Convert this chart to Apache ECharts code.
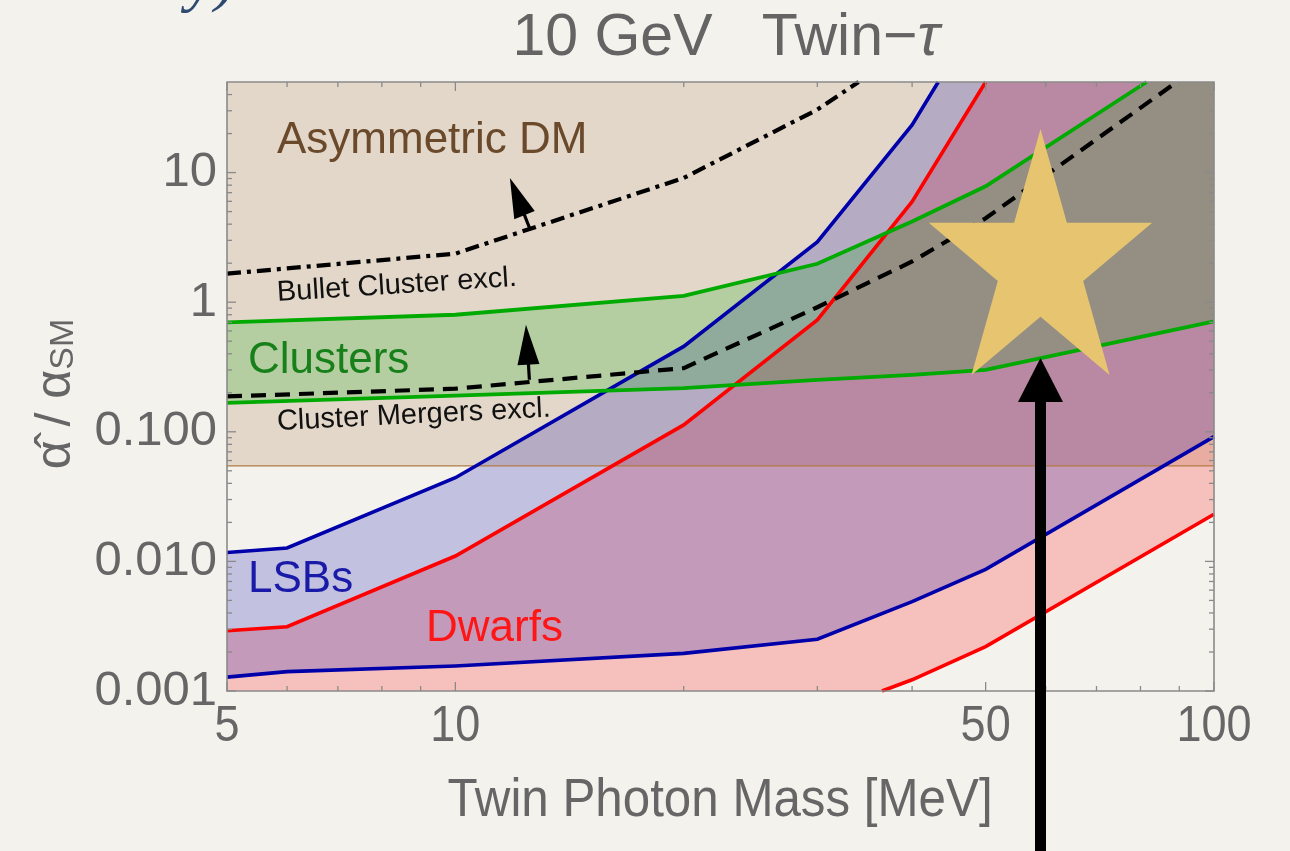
<!DOCTYPE html>
<html>
<head>
<meta charset="utf-8">
<script src="https://cdn.jsdelivr.net/npm/echarts@6/dist/echarts.min.js"></script>
<style>
html,body{margin:0;padding:0;background:#f4f2ed;}
#c{width:1290px;height:851px;}
</style>
</head>
<body>
<div id="c"></div>
<script>
// ---------- data ----------
const xRange = [5, 100];
const yRange = [0.001, 50];
const xMajorTicks = [5, 10, 50, 100];
const xTickLabels = ['5', '10', '50', '100'];
const xMinorTicks = [6, 7, 8, 9, 20, 30, 40, 60, 70, 80, 90];
const yMajorTicks = [0.001, 0.01, 0.1, 1, 10];
const yTickLabels = ['0.001', '0.010', '0.100', '1', '10'];
const yMinorTicks = [0.002,0.003,0.004,0.005,0.006,0.007,0.008,0.009,
                     0.02,0.03,0.04,0.05,0.06,0.07,0.08,0.09,
                     0.2,0.3,0.4,0.5,0.6,0.7,0.8,0.9,
                     2,3,4,5,6,7,8,9,20,30,40];

const admThreshold = 0.0546;            // Asymmetric DM region lower edge
const lsbUpper   = [[5,0.0117],[6,0.0127],[10,0.0442],[20,0.456],[30,2.92],[40,23.3],[43.3,50]];
const lsbLower   = [[5,0.00128],[6,0.00141],[10,0.00156],[20,0.00195],[30,0.00251],[40,0.00489],[50,0.00869],[100,0.0917]];
const dwarfUpper = [[5,0.00292],[6,0.00313],[10,0.011],[20,0.113],[30,0.73],[40,5.96],[50,50]];
const dwarfLower = [[36.5,0.001],[40,0.00122],[50,0.0022],[100,0.0231]];
const clusterUpper = [[5,0.698],[10,0.80],[20,1.12],[30,1.98],[40,4.19],[50,7.84],[81.5,50]];
const clusterLower = [[5,0.167],[10,0.190],[20,0.217],[30,0.252],[40,0.275],[50,0.301],[100,0.711]];
const mergersExcl = [[5,0.1875],[10,0.215],[20,0.310],[30,0.914],[40,2.06],[50,4.44],[89.3,50]];
const bulletExcl  = [[5,1.66],[10,2.37],[20,9.1],[30,30.6],[34,50]];
const bulletArrow  = [[12.54,3.67],[11.80,9.10]];
const clusterArrow = [[12.52,0.252],[12.39,0.670]];
const bigArrow     = [[59.06,0.00004],[59.06,0.371]];
const starCenter   = [59.06, 1.94];

// ---------- helpers ----------
const FONT = '"Liberation Sans", Arial, Helvetica, sans-serif';

function bandSeries(upper, lower, fill, topRight, bottomLeft, z) {
  return {
    type: 'custom', coordinateSystem: 'cartesian2d', clip: true, silent: true, z: z,
    data: [upper[0]],
    renderItem: function (params, api) {
      const cs = params.coordSys;
      const pts = upper.map(p => api.coord(p));
      if (topRight) pts.push([cs.x + cs.width + 6, cs.y - 6]);
      lower.slice().reverse().forEach(p => pts.push(api.coord(p)));
      if (bottomLeft) pts.push([cs.x - 6, cs.y + cs.height + 6]);
      return {
        type: 'polygon', shape: { points: pts }, style: { fill: fill },
        clipPath: { type: 'rect', shape: { x: cs.x, y: cs.y, width: cs.width, height: cs.height } }
      };
    }
  };
}

function lineSeries(data, color, width, dash, z) {
  return {
    type: 'line', data: data, symbol: 'none', showSymbol: false, silent: true, z: z,
    clip: true,
    lineStyle: { color: color, width: width, type: dash || 'solid', cap: 'butt', join: 'miter' }
  };
}

function arrowSeries(arrow, shaftW, headL, headW, color, z, clip) {
  return {
    type: 'custom', coordinateSystem: 'cartesian2d', clip: !!clip, silent: true, z: z,
    data: [arrow[1]],
    renderItem: function (params, api) {
      const a = api.coord(arrow[0]), b = api.coord(arrow[1]);
      const dx = b[0] - a[0], dy = b[1] - a[1];
      const L = Math.hypot(dx, dy), ux = dx / L, uy = dy / L;
      const bx = b[0] - ux * headL, by = b[1] - uy * headL;
      const nx = -uy, ny = ux;
      return {
        type: 'group', children: [
          { type: 'line', shape: { x1: a[0], y1: a[1], x2: bx + ux * 3, y2: by + uy * 3 },
            style: { stroke: color, lineWidth: shaftW, lineCap: 'butt' } },
          { type: 'polygon', shape: { points: [[b[0], b[1]],
              [bx + nx * headW / 2, by + ny * headW / 2],
              [bx - nx * headW / 2, by - ny * headW / 2]] },
            style: { fill: color } }
        ]
      };
    }
  };
}

const starSeries = {
  type: 'custom', coordinateSystem: 'cartesian2d', clip: false, silent: true, z: 7,
  data: [starCenter],
  renderItem: function (params, api) {
    const c = api.coord(starCenter);
    const rx = 117.5, ry = 136, k = 0.382;
    const pts = [];
    for (let i = 0; i < 10; i++) {
      const ang = -Math.PI / 2 + i * Math.PI / 5;
      const r = (i % 2 === 0) ? 1 : k;
      pts.push([c[0] + rx * r * Math.cos(ang), c[1] + ry * r * Math.sin(ang)]);
    }
    return { type: 'polygon', shape: { points: pts }, style: { fill: '#e6c470' } };
  }
};

const TICK = '#8a8a8a';
function xTickSeries(values, major) {
  return {
    type: 'custom', coordinateSystem: 'cartesian2d', clip: false, silent: true, z: 8,
    data: values.map(v => [v, yRange[0]]),
    renderItem: function (params, api) {
      const cs = params.coordSys;
      const x = api.coord([api.value(0), yRange[0]])[0];
      const len = major ? 9 : 5;
      const bottom = cs.y + cs.height, top = cs.y;
      const ch = [
        { type: 'line', shape: { x1: x, y1: bottom, x2: x, y2: bottom - len }, style: { stroke: TICK, lineWidth: 1.3 } },
        { type: 'line', shape: { x1: x, y1: top, x2: x, y2: top + len }, style: { stroke: TICK, lineWidth: 1.3 } }
      ];
      if (major) {
        ch.push({ type: 'text', x: x, y: bottom + 36, scaleX: 0.9,
          style: { text: xTickLabels[params.dataIndex], x: 0, y: 0, fill: '#666666',
            font: '50px ' + FONT, align: 'center', verticalAlign: 'middle',
            textAlign: 'center', textVerticalAlign: 'middle' } });
      }
      return { type: 'group', children: ch };
    }
  };
}
function yTickSeries(values, major) {
  return {
    type: 'custom', coordinateSystem: 'cartesian2d', clip: false, silent: true, z: 8,
    data: values.map(v => [xRange[0], v]),
    renderItem: function (params, api) {
      const cs = params.coordSys;
      const y = api.coord([xRange[0], api.value(1)])[1];
      const len = major ? 9 : 5;
      const left = cs.x, right = cs.x + cs.width;
      const ch = [
        { type: 'line', shape: { x1: left, y1: y, x2: left + len, y2: y }, style: { stroke: TICK, lineWidth: 1.3 } },
        { type: 'line', shape: { x1: right, y1: y, x2: right - len, y2: y }, style: { stroke: TICK, lineWidth: 1.3 } }
      ];
      if (major) {
        ch.push({ type: 'text', x: left - 10, y: y,
          style: { text: yTickLabels[params.dataIndex], x: 0, y: 0, fill: '#666666',
            font: '49px ' + FONT, align: 'right', verticalAlign: 'middle',
            textAlign: 'right', textVerticalAlign: 'middle' } });
      }
      return { type: 'group', children: ch };
    }
  };
}
const frameSeries = {
  type: 'custom', coordinateSystem: 'cartesian2d', clip: false, silent: true, z: 8,
  data: [[xRange[0], yRange[0]]],
  renderItem: function (params, api) {
    const cs = params.coordSys;
    return { type: 'rect', shape: { x: cs.x, y: cs.y, width: cs.width, height: cs.height },
      style: { fill: null, stroke: '#8a8a8a', lineWidth: 1.6 } };
  }
};

// ---------- chart ----------
const chart = echarts.init(document.getElementById('c'), null, { renderer: 'canvas' });
const option = {
  backgroundColor: '#f4f2ed',
  animation: false,
  grid: { left: 227, top: 82, width: 987, height: 609, show: false },
  xAxis: { type: 'log', logBase: 10, min: xRange[0], max: xRange[1],
    axisLine: { show: false }, axisTick: { show: false }, axisLabel: { show: false },
    splitLine: { show: false }, minorTick: { show: false } },
  yAxis: { type: 'log', logBase: 10, min: yRange[0], max: yRange[1],
    axisLine: { show: false }, axisTick: { show: false }, axisLabel: { show: false },
    splitLine: { show: false }, minorTick: { show: false } },
  series: [
    bandSeries([[xRange[0], yRange[1]], [xRange[1], yRange[1]]],
               [[xRange[0], admThreshold], [xRange[1], admThreshold]],
               'rgba(159,112,67,0.2)', false, false, 1),
    bandSeries(dwarfUpper, dwarfLower, 'rgba(255,0,0,0.2)', true, true, 1),
    bandSeries(lsbUpper, lsbLower, 'rgba(0,0,175,0.2)', true, false, 1),
    bandSeries(clusterUpper, clusterLower, 'rgba(0,170,0,0.2)', true, false, 1),
    lineSeries([[xRange[0], admThreshold], [xRange[1], admThreshold]], '#b27a44', 1.2, null, 2),
    lineSeries(lsbUpper, '#0000aa', 3.6, null, 3),
    lineSeries(lsbLower, '#0000aa', 3.6, null, 3),
    lineSeries(dwarfUpper, '#ff0000', 3.6, null, 3),
    lineSeries(dwarfLower, '#ff0000', 3.6, null, 3),
    lineSeries(clusterUpper, '#00aa00', 3.8, null, 4),
    lineSeries(clusterLower, '#00aa00', 3.8, null, 4),
    lineSeries(mergersExcl, '#000000', 4.2, [15, 9], 5),
    lineSeries(bulletExcl, '#000000', 4.2, [14, 6, 4, 6], 5),
    arrowSeries(bulletArrow, 3.2, 40, 22, '#000000', 6, false),
    arrowSeries(clusterArrow, 3.2, 40, 22, '#000000', 6, false),
    starSeries,
    frameSeries,
    xTickSeries(xMajorTicks, true),
    xTickSeries(xMinorTicks, false),
    yTickSeries(yMajorTicks, true),
    yTickSeries(yMinorTicks, false),
    arrowSeries(bigArrow, 11, 44, 45, '#000000', 9, false)
  ],
  graphic: [
    { type: 'text', x: 236, y: -18, z: 10,
      style: { text: 'ality)', font: 'italic 64px "Liberation Serif", "DejaVu Serif", serif',
        fill: '#2d4a6f', align: 'right', verticalAlign: 'middle', textAlign: 'right', textVerticalAlign: 'middle' } },
    { type: 'text', x: 726, y: 39, z: 10,
      style: { text: '{n|10 GeV   Twin\u2212}{i|\u03c4}', align: 'center', verticalAlign: 'middle',
        textAlign: 'center', textVerticalAlign: 'middle',
        rich: { n: { font: '59px ' + FONT, fill: '#646464' },
                i: { font: 'italic 59px ' + FONT, fill: '#646464' } } } },
    { type: 'text', x: 720, y: 801, z: 10, scaleX: 0.93,
      style: { text: 'Twin Photon Mass [MeV]', font: '53px ' + FONT, fill: '#666666',
        align: 'center', verticalAlign: 'middle', textAlign: 'center', textVerticalAlign: 'middle' } },
    { type: 'text', x: 52, y: 394, z: 10, rotation: Math.PI / 2,
      style: { text: '{a|\u03b1\u0302 / \u03b1}{s|SM}', align: 'center', verticalAlign: 'middle',
        textAlign: 'center', textVerticalAlign: 'middle',
        rich: { a: { font: '50px ' + FONT, fill: '#666666', lineHeight: 58, verticalAlign: 'bottom' },
                s: { font: '34px ' + FONT, fill: '#666666', lineHeight: 30, verticalAlign: 'bottom' } } } },
    { type: 'text', x: 277, y: 141, z: 10,
      style: { text: 'Asymmetric DM', font: '44px ' + FONT, fill: '#6b4a2c',
        align: 'left', verticalAlign: 'middle', textAlign: 'left', textVerticalAlign: 'middle' } },
    { type: 'text', x: 277, y: 293, z: 10, rotation: 0.063,
      style: { text: 'Bullet Cluster excl.', font: '29px ' + FONT, fill: '#111111',
        align: 'left', verticalAlign: 'middle', textAlign: 'left', textVerticalAlign: 'middle' } },
    { type: 'text', x: 277, y: 422, z: 10, rotation: 0.049,
      style: { text: 'Cluster Mergers excl.', font: '29px ' + FONT, fill: '#111111',
        align: 'left', verticalAlign: 'middle', textAlign: 'left', textVerticalAlign: 'middle' } },
    { type: 'text', x: 248, y: 361, z: 10,
      style: { text: 'Clusters', font: '44px ' + FONT, fill: '#17801a',
        align: 'left', verticalAlign: 'middle', textAlign: 'left', textVerticalAlign: 'middle' } },
    { type: 'text', x: 248, y: 580, z: 10,
      style: { text: 'LSBs', font: '44px ' + FONT, fill: '#1a1aa8',
        align: 'left', verticalAlign: 'middle', textAlign: 'left', textVerticalAlign: 'middle' } },
    { type: 'text', x: 426, y: 629, z: 10,
      style: { text: 'Dwarfs', font: '44px ' + FONT, fill: '#ff1515',
        align: 'left', verticalAlign: 'middle', textAlign: 'left', textVerticalAlign: 'middle' } }
  ]
};
chart.setOption(option);
</script>
</body>
</html>
